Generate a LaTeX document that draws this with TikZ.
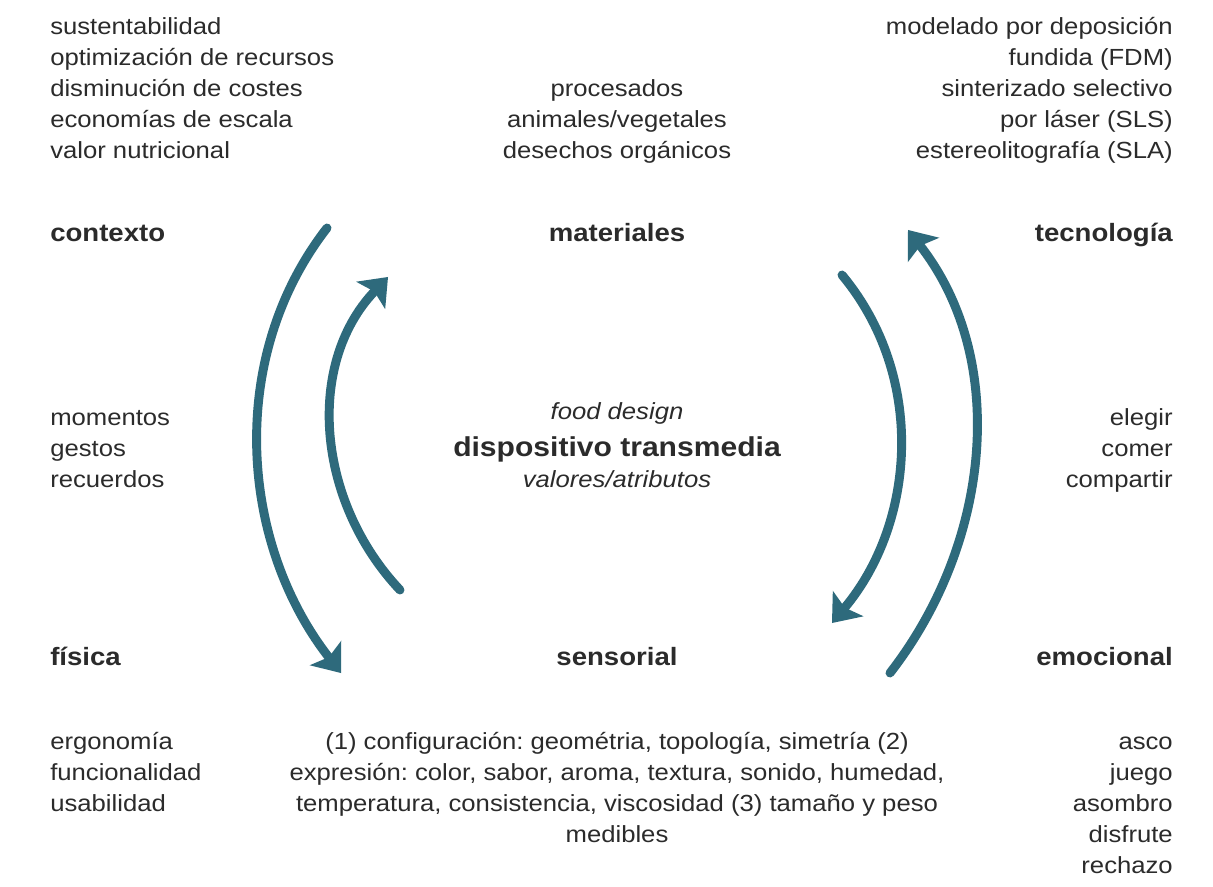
\documentclass[tikz,border=0pt]{standalone}
\usepackage{fontspec}
\setmainfont{Liberation Sans}[FakeStretch=1.1]
\usetikzlibrary{arrows.meta}
\definecolor{arc}{RGB}{46,106,124}
\definecolor{ink}{HTML}{2B2B2B}
\frenchspacing

\begin{document}
\begin{tikzpicture}[x=0.75pt,y=-0.75pt,
	lst/.style={inner sep=0pt, text=ink, font=\fontsize{17.5}{23}\selectfont},
	lbl/.style={inner sep=0pt, text=ink, font=\fontsize{18.8}{23}\selectfont\bfseries},
	flow/.style={draw=arc, line width=6.7pt, line cap=round,
		-{Stealth[length=19pt,width=30pt,inset=4pt,line width=0pt]}}]
	\path[use as bounding box, fill=white] (0,0) rectangle (1213,887);

	% lists
	\foreach \t [count=\i from 0] in {sustentabilidad,optimización de recursos,disminución de costes,economías de escala,valor nutricional}
		\node[lst, anchor=base west] (ctx\i) at (50,{35+31*\i}) {\t};
	\foreach \t [count=\i from 0] in {procesados,animales/vegetales,desechos orgánicos}
		\node[lst, anchor=base] (mat\i) at (617,{97+31*\i}) {\t};
	\foreach \t [count=\i from 0] in {modelado por deposición,fundida (FDM),sinterizado selectivo,por láser (SLS),estereolitografía (SLA)}
		\node[lst, anchor=base east] (tec\i) at (1173,{35+31*\i}) {\t};
	\foreach \t [count=\i from 0] in {momentos,gestos,recuerdos}
		\node[lst, anchor=base west] (mom\i) at (50,{426+31*\i}) {\t};
	\foreach \t [count=\i from 0] in {elegir,comer,compartir}
		\node[lst, anchor=base east] (ele\i) at (1173,{426+31*\i}) {\t};
	\foreach \t [count=\i from 0] in {ergonomía,funcionalidad,usabilidad}
		\node[lst, anchor=base west] (fis\i) at (50,{749+31*\i}) {\t};
	\foreach \t [count=\i from 0] in {{(1) configuración: geométria, topología, simetría (2)},{expresión: color, sabor, aroma, textura, sonido, humedad,},{temperatura, consistencia, viscosidad (3) tamaño y peso},medibles}
		\node[lst, anchor=base] (sen\i) at (617,{749+31*\i}) {\t};
	\foreach \t [count=\i from 0] in {asco,juego,asombro,disfrute,rechazo}
		\node[lst, anchor=base east] (emo\i) at (1173,{749+31*\i}) {\t};

	% labels
	\node[lbl, anchor=base west] (contexto) at (50,242) {contexto};
	\node[lbl, anchor=base] (materiales) at (617,242) {materiales};
	\node[lbl, anchor=base east] (tecnologia) at (1173,242) {tecnología};
	\node[lbl, anchor=base west] (fisica) at (50,665) {física};
	\node[lbl, anchor=base] (sensorial) at (617,665) {sensorial};
	\node[lbl, anchor=base east] (emocional) at (1173,665) {emocional};

	% centre
	\node[lst, anchor=base, font=\fontsize{17.5}{23}\selectfont\itshape] (fd) at (617,420) {food design};
	\node[lbl, anchor=base, font=\fontsize{20.5}{24}\selectfont\bfseries] (dt) at (617,457) {dispositivo transmedia};
	\node[lst, anchor=base, font=\fontsize{17.5}{23}\selectfont\itshape] (va) at (617,487) {valores/atributos};

	% arcs
	\coordinate (lo-s) at (327,228); \coordinate (lo-e) at (341,673);
	\coordinate (li-s) at (400,590); \coordinate (li-e) at (388,277);
	\coordinate (ri-s) at (842,275); \coordinate (ri-e) at (832,623);
	\coordinate (ro-s) at (890,673); \coordinate (ro-e) at (908,230);
	\draw[flow] (lo-s) .. controls +(-101,130) and +(-101,-130) .. (lo-e);
	\draw[flow] (li-s) .. controls +(-83,-88) and +(-83,88) .. (li-e);
	\draw[flow] (ri-s) .. controls +(84,101) and +(84,-101) .. (ri-e);
	\draw[flow] (ro-s) .. controls +(101,-130) and +(101,130) .. (ro-e);
\end{tikzpicture}
\end{document}
